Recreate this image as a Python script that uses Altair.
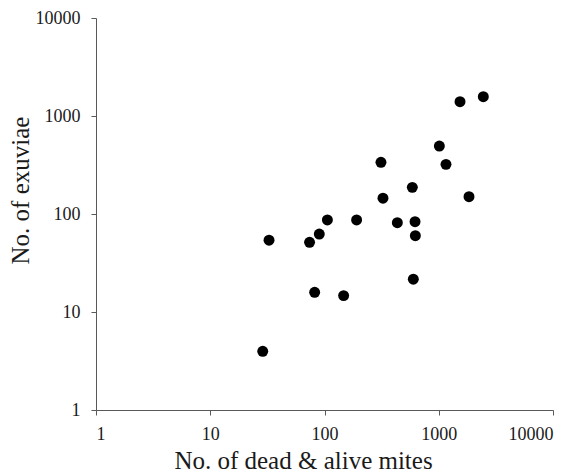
import altair as alt
import pandas as pd

# No. of dead & alive mites (x) and No. of exuviae (y)
mites = [1535, 2455, 1012, 1157, 312, 587, 325, 1840, 106, 191,
         434, 620, 624, 90, 74, 32.7, 599, 82, 147, 28.8]
exuviae = [1400, 1574, 494, 321, 337, 187, 145, 150, 87, 87,
           81.5, 83.5, 60, 62.5, 51.4, 54, 21.6, 15.9, 14.7, 3.97]
tick_values = [1, 10, 100, 1000, 10000]

df = pd.DataFrame({"mites": mites, "exuviae": exuviae})

font = "Liberation Serif"
axis_color = "#595959"

chart = (
    alt.Chart(df)
    .mark_circle(size=120, color="black", opacity=1)
    .encode(
        x=alt.X(
            "mites:Q",
            scale=alt.Scale(type="log", domain=[1, 10000], nice=False),
            axis=alt.Axis(
                title="No. of dead & alive mites",
                values=tick_values,
                format="d",
                grid=False,
                tickSize=5,
                labelPadding=10,
                titleX=207,
                titleY=58,
                titleBaseline="alphabetic",
                titleAlign="center",
            ),
        ),
        y=alt.Y(
            "exuviae:Q",
            scale=alt.Scale(type="log", domain=[1, 10000], nice=False),
            axis=alt.Axis(
                title="No. of exuviae",
                values=tick_values,
                format="d",
                grid=False,
                tickSize=5,
                labelPadding=11,
                titleX=-68,
                titleY=172,
                titleAngle=-90,
                titleBaseline="alphabetic",
                titleAlign="center",
            ),
        ),
    )
    .properties(
        width=457,
        height=392,
        autosize=alt.AutoSizeParams(type="none"),
        padding={"left": 96, "top": 18, "right": 26, "bottom": 62},
    )
    .configure_view(stroke=None)
    .configure_axis(
        domainColor=axis_color,
        tickColor=axis_color,
        domainWidth=1,
        tickWidth=1,
        labelFont=font,
        labelFontSize=18,
        labelColor="#1a1a1a",
        titleFont=font,
        titleFontSize=25,
        titleFontWeight="normal",
        titleColor="#1a1a1a",
    )
)

chart.save("out.html", embed_options={"renderer": "svg", "actions": False})
